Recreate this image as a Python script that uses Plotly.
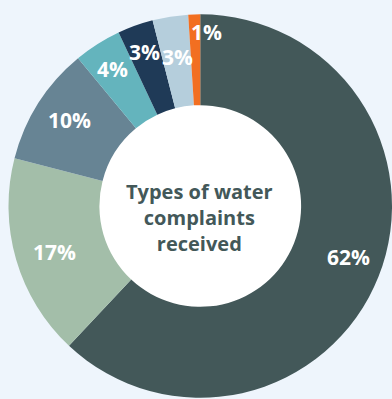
import plotly.graph_objects as go

# Complaint categories and their shares (%)
categories = ["Type A", "Type B", "Type C", "Type D", "Type E", "Type F", "Type G"]
shares = [62, 17, 10, 4, 3, 3, 1]
colors = ["#435859", "#a3bea9", "#678494", "#64b4bd", "#1f3a57", "#b5cedc", "#f26f21"]

# Label anchor points (pixels from top-left of the 392x399 canvas)
label_xy = [(348, 257), (55, 252), (69, 120), (112, 69), (144, 52), (177, 57), (206, 32)]

W, H = 392, 399
cx, cy, r = 200.5, 206, 192
hole_frac = 0.526
bg = "#eef5fc"

fig = go.Figure(go.Pie(
    labels=categories,
    values=shares,
    marker=dict(colors=colors, line=dict(width=0)),
    hole=hole_frac,
    sort=False,
    direction="clockwise",
    rotation=0,
    textinfo="none",
    hoverinfo="label+percent",
    showlegend=False,
    domain=dict(x=[(cx - r) / W, min(1, (cx + r) / W)],
                y=[(H - cy - r) / H, (H - cy + r) / H]),
))

annotations = []
for v, (px, py) in zip(shares, label_xy):
    annotations.append(dict(
        x=px / W, y=1 - py / H, xref="paper", yref="paper",
        text=f"<b>{v}%</b>", showarrow=False,
        xanchor="center", yanchor="middle",
        font=dict(family="Open Sans", size=21, color="white"),
    ))

annotations.append(dict(
    x=199 / W, y=1 - 217 / H, xref="paper", yref="paper",
    text="<b>Types of water<br>complaints<br>received</b>", showarrow=False,
    xanchor="center", yanchor="middle", align="center",
    font=dict(family="Open Sans", size=20, color="#435859"),
))

hr = r * hole_frac + 1
fig.update_layout(
    width=W, height=H,
    margin=dict(l=0, r=0, t=0, b=0),
    paper_bgcolor=bg, plot_bgcolor=bg,
    annotations=annotations,
    shapes=[dict(type="circle", xref="paper", yref="paper", layer="below",
                 x0=(cx - hr) / W, x1=(cx + hr) / W,
                 y0=(H - cy - hr) / H, y1=(H - cy + hr) / H,
                 fillcolor="white", line=dict(width=0))],
)

fig.write_html("out.html")
